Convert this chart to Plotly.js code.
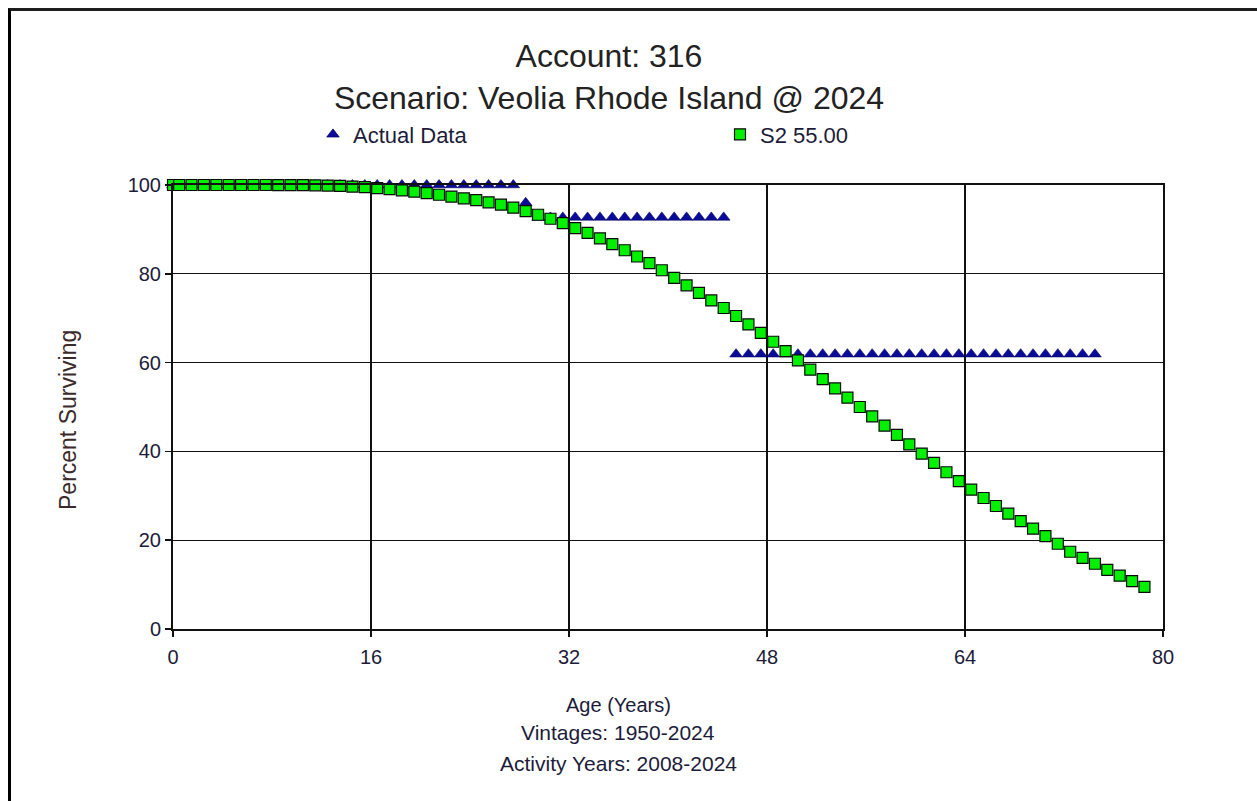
<!DOCTYPE html>
<html>
<head>
<meta charset="utf-8">
<script src="https://cdn.plot.ly/plotly-3.0.1.min.js"></script>
<style>
  html, body { margin: 0; padding: 0; background: #ffffff; }
  #frame { position: absolute; left: 8px; top: 8px; width: 1249px; height: 793px;
           border-top: 3px solid #1e1e1e; border-left: 3px solid #000; box-sizing: border-box; pointer-events: none; z-index: 5; }
  #chart { position: absolute; left: 0; top: 0; width: 1257px; height: 801px; }
</style>
</head>
<body>
<div id="chart"></div>
<div id="frame"></div>
<script>
// ---- Data ----
const actualAges = [0,0.5,1.5,2.5,3.5,4.5,5.5,6.5,7.5,8.5,9.5,10.5,11.5,12.5,13.5,14.5,15.5,16.5,17.5,18.5,19.5,20.5,21.5,22.5,23.5,24.5,25.5,26.5,27.5,
  28.5,
  29.5,30.5,31.5,32.5,33.5,34.5,35.5,36.5,37.5,38.5,39.5,40.5,41.5,42.5,43.5,44.5,
  45.5,46.5,47.5,48.5,49.5,50.5,51.5,52.5,53.5,54.5,55.5,56.5,57.5,58.5,59.5,60.5,61.5,62.5,63.5,64.5,65.5,66.5,67.5,68.5,69.5,70.5,71.5,72.5,73.5,74.5];
const actualValues = [100,100,100,100,100,100,100,100,100,100,100,100,100,100,100,100,100,100,100,100,100,100,100,100,100,100,100,100,100,
  96.0,
  92.7,92.7,92.7,92.7,92.7,92.7,92.7,92.7,92.7,92.7,92.7,92.7,92.7,92.7,92.7,92.7,
  61.9,61.9,61.9,61.9,61.9,61.9,61.9,61.9,61.9,61.9,61.9,61.9,61.9,61.9,61.9,61.9,61.9,61.9,61.9,61.9,61.9,61.9,61.9,61.9,61.9,61.9,61.9,61.9,61.9,61.9];

const s2Ages = [0,0.5,1.5,2.5,3.5,4.5,5.5,6.5,7.5,8.5,9.5,10.5,11.5,12.5,13.5,14.5,15.5,16.5,17.5,18.5,19.5,
  20.5,21.5,22.5,23.5,24.5,25.5,26.5,27.5,28.5,29.5,30.5,31.5,32.5,33.5,34.5,35.5,36.5,37.5,38.5,39.5,
  40.5,41.5,42.5,43.5,44.5,45.5,46.5,47.5,48.5,49.5,50.5,51.5,52.5,53.5,54.5,55.5,56.5,57.5,58.5,59.5,
  60.5,61.5,62.5,63.5,64.5,65.5,66.5,67.5,68.5,69.5,70.5,71.5,72.5,73.5,74.5,75.5,76.5,77.5,78.5];
const s2Values = [100,100,100,100,100,100,100,100,100,99.99,99.98,99.96,99.93,99.88,99.8,99.65,99.5,99.3,99.05,98.8,98.5,
  98.15,97.8,97.4,97.0,96.6,96.1,95.6,94.9,94.1,93.3,92.4,91.4,90.3,89.2,88.0,86.7,85.3,83.9,82.4,80.8,
  79.1,77.4,75.7,74.0,72.3,70.5,68.6,66.7,64.7,62.6,60.5,58.4,56.3,54.2,52.1,50.0,47.9,45.8,43.7,41.6,
  39.5,37.4,35.3,33.3,31.4,29.5,27.7,26.0,24.3,22.6,20.9,19.2,17.4,16.0,14.7,13.3,12.0,10.8,9.5];

const seriesNames = ["Actual Data", "S2 55.00"];
const xTicks = [0, 16, 32, 48, 64, 80];
const yTicks = [0, 20, 40, 60, 80, 100];
const titleLines = ["Account: 316", "Scenario: Veolia Rhode Island @ 2024"];
const xTitleLines = ["Age (Years)", "Vintages: 1950-2024", "Activity Years: 2008-2024"];
const yTitle = "Percent Surviving";

// ---- Chart ----
const FONT = "Liberation Sans, Arial, sans-serif";
const traces = [
  {
    x: actualAges, y: actualValues, name: seriesNames[0], type: "scatter", mode: "markers",
    marker: { symbol: "triangle-up", size: 11, color: "#0b0b9a", line: { color: "#00005a", width: 0.6 } },
    cliponaxis: false
  },
  {
    x: s2Ages, y: s2Values, name: seriesNames[1], type: "scatter", mode: "markers",
    marker: { symbol: "square", size: 11, color: "#00f000", line: { color: "#0a0a0a", width: 1.2 } },
    cliponaxis: false
  }
];

const axisCommon = {
  showline: true, linecolor: "#111", linewidth: 2, mirror: true,
  showgrid: true, gridcolor: "#111", gridwidth: 1.4,
  zeroline: false, ticks: "outside", ticklen: 6, tickwidth: 1.5, tickcolor: "#111",
  tickfont: { family: FONT, size: 20, color: "#1c1c3a" }, fixedrange: true
};

const layout = {
  width: 1257, height: 801,
  paper_bgcolor: "#ffffff", plot_bgcolor: "#ffffff",
  margin: { l: 173, r: 94, t: 185, b: 172 },
  font: { family: FONT, color: "#222" },
  title: {
    text: titleLines.join("<br>"), xref: "container", x: 0.4845, xanchor: "center",
    yref: "container", y: 0.916, yanchor: "top",
    font: { family: FONT, size: 32, color: "#222" }
  },
  showlegend: true,
  legend: {
    orientation: "h", xref: "container", yref: "container", x: 0.249, y: 0.832, xanchor: "left", yanchor: "middle",
    entrywidth: 362, entrywidthmode: "pixels", font: { family: FONT, size: 22, color: "#1c1c3a" },
    bgcolor: "rgba(0,0,0,0)", borderwidth: 0, tracegroupgap: 0
  },
  xaxis: Object.assign({}, axisCommon, {
    range: [0, 80], tickvals: xTicks, ticktext: xTicks.map(String), ticklabelstandoff: 3
  }),
  yaxis: Object.assign({}, axisCommon, {
    range: [0, 100], tickvals: yTicks, ticktext: yTicks.map(String)
  }),
  annotations: [
    { text: xTitleLines[0], xref: "paper", yref: "paper", y: -0.171, xanchor: "center", yanchor: "middle", showarrow: false, font: { family: FONT, size: 20, color: "#1c1c3a" } },
    { text: xTitleLines[1], xref: "paper", yref: "paper", y: -0.232, xanchor: "center", yanchor: "middle", showarrow: false, font: { family: FONT, size: 21, color: "#1c1c3a" } },
    { text: xTitleLines[2], xref: "paper", yref: "paper", y: -0.304, xanchor: "center", yanchor: "middle", showarrow: false, font: { family: FONT, size: 21, color: "#1c1c3a" } },
    { text: yTitle, xref: "paper", yref: "paper", textangle: -90, y: (629 - 420) / 444, xanchor: "center", yanchor: "middle", showarrow: false, font: { family: FONT, size: 23, color: "#3a2a2a" } }
  ]
};
// centre bottom labels at page x ~618, y-axis title at page x ~68
layout.annotations.slice(0, 3).forEach(a => { a.x = (618 - 173) / 990; });
layout.annotations[3].x = (68 - 173) / 990;

Plotly.newPlot("chart", traces, layout, { displayModeBar: false, staticPlot: true });
</script>
</body>
</html>
